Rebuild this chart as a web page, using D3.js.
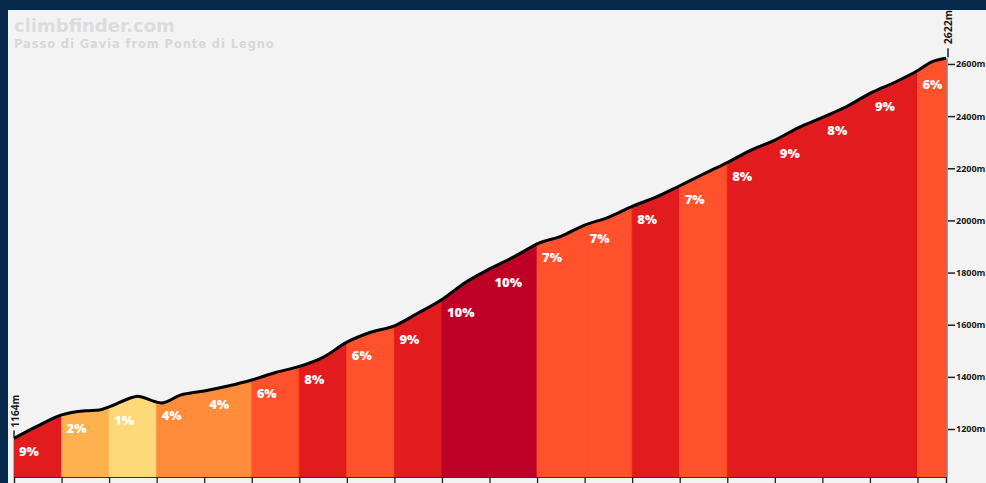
<!DOCTYPE html>
<html>
<head>
<meta charset="utf-8">
<script src="https://cdn.jsdelivr.net/npm/d3@7"></script>
<style>
  html, body { margin: 0; padding: 0; background: #072a4b; }
  svg { display: block; }
</style>
</head>
<body>
<svg id="chart" width="986" height="483"></svg>
<script>
// ---- data ----
const profileKm = [0,0.5,1,1.5,1.8,2,2.5,2.6,2.9,3,3.1,3.5,4,4.5,5,5.5,6,6.5,7,7.5,8,8.5,9,9.5,10,10.5,10.8,11,11.5,12,12.5,13,13.5,14,14.5,15,15.5,16,16.5,17,17.5,18,18.5,19,19.3,19.6];
const profileElev = [1164,1212,1254,1270,1273,1285,1322,1326,1309,1303,1300,1330,1346,1365,1388,1417,1440,1475,1533,1571,1596,1645,1697,1763,1814,1859,1890,1910,1939,1982,2012,2054,2089,2133,2178,2222,2270,2308,2356,2395,2436,2487,2528,2574,2608,2622];
const segStart = [0,1,2,3,4,5,6,7,8,9,10,11,12,13,14,15,16,17,18,19];
const segEnd   = [1,2,3,4,5,6,7,8,9,10,11,12,13,14,15,16,17,18,19,19.6];
const segGrade = [9,2,1,4,4,6,8,6,9,10,10,7,7,8,7,8,9,8,9,6];
const elevTicks = [1200,1400,1600,1800,2000,2200,2400,2600];
const kmTicks = [0,1,2,3,4,5,6,7,8,9,10,11,12,13,14,15,16,17,18,19,19.6];
const title = "climbfinder.com";
const subtitle = "Passo di Gavia from Ponte di Legno";
const startLabel = "1164m";
const endLabel = "2622m";

const gradeColor = {1:"#fed879",2:"#fdb24f",4:"#fe8c3b",6:"#ff512b",7:"#ff512b",8:"#e11b1e",9:"#e11b1e",10:"#bf0026"};

// ---- layout ----
const svg = d3.select("#chart");
svg.append("rect").attr("x",0).attr("y",0).attr("width",986).attr("height",483).attr("fill","#072a4b");
svg.append("rect").attr("x",8).attr("y",10).attr("width",978).attr("height",473).attr("fill","#f3f3f4");

const x = d3.scaleLinear().domain([0, 19.6]).range([14, 946]);
const y = d3.scaleLinear().domain([1016, 2807]).range([477, 10]);

const pts = profileKm.map((d,i)=>({km:d, e:profileElev[i]}));
const curve = d3.curveMonotoneX;

// titles
svg.append("text").attr("x",14).attr("y",32).text(title)
  .attr("font-family","DejaVu Sans, sans-serif").attr("font-weight",700).attr("font-size",18).attr("fill","#dcdcdd");
svg.append("text").attr("x",14).attr("y",48).text(subtitle)
  .attr("font-family","DejaVu Sans, sans-serif").attr("font-weight",700).attr("font-size",11.5)
  .attr("letter-spacing",0.9).attr("fill","#d8d8d9");

// segments
const area = d3.area().x(d=>x(d.km)).y0(y(1016)).y1(d=>y(d.e)).curve(curve);
segStart.forEach((s,i)=>{
  const e = segEnd[i];
  const sub = pts.filter(p=>p.km>=s-1e-9 && p.km<=e+1e-9);
  const c = gradeColor[segGrade[i]];
  svg.append("path").datum(sub).attr("d",area).attr("fill",c)
    .attr("stroke",c).attr("stroke-width",0.8);
});

// profile line
svg.append("path").datum(pts)
  .attr("d", d3.line().x(d=>x(d.km)).y(d=>y(d.e)).curve(curve))
  .attr("fill","none").attr("stroke","#000").attr("stroke-width",3).attr("stroke-linejoin","round");

// grade labels
segStart.forEach((s,i)=>{
  const p = pts.find(q=>Math.abs(q.km-s)<1e-9);
  svg.append("text").attr("x",x(s)+5).attr("y",y(p.e)+18)
    .text(segGrade[i]+"%")
    .attr("font-family","Open Sans, sans-serif").attr("font-weight",800).attr("font-size",13)
    .attr("fill","#fff");
});

// right axis
const ax = svg.append("g").attr("transform","translate(948,0)")
  .call(d3.axisRight(y).tickValues(elevTicks).tickSize(7).tickPadding(1).tickFormat(d=>d+"m"));
ax.select(".domain").remove();
ax.selectAll(".tick line").attr("stroke","#222").attr("stroke-width",1.5);
ax.selectAll(".tick text").attr("font-family","Open Sans, sans-serif").attr("font-weight",700)
  .attr("font-size",9).attr("fill","#1a1a1a");
svg.append("line").attr("x1",947).attr("x2",947).attr("y1",y(2622)).attr("y2",477)
  .attr("stroke","#444").attr("stroke-width",1);

// bottom axis
const bx = svg.append("g").attr("transform","translate(0,477)")
  .call(d3.axisBottom(x).tickValues(kmTicks).tickSize(7).tickFormat(""));
bx.select(".domain").attr("stroke","#333").attr("stroke-width",1.2);
bx.selectAll(".tick line").attr("stroke","#222").attr("stroke-width",1.3);

// start / end labels
const y0 = y(profileElev[0]);
svg.append("line").attr("x1",14).attr("x2",14).attr("y1",y0-1).attr("y2",y0-8).attr("stroke","#222").attr("stroke-width",1.5);
svg.append("text").attr("transform",`translate(19,${y0-11}) rotate(-90)`).text(startLabel)
  .attr("font-family","Open Sans, sans-serif").attr("font-weight",700).attr("font-size",10).attr("fill","#1a1a1a");
const y1 = y(profileElev[profileElev.length-1]);
svg.append("line").attr("x1",948).attr("x2",948).attr("y1",y1-1).attr("y2",y1-10).attr("stroke","#222").attr("stroke-width",1.5);
svg.append("text").attr("transform",`translate(952,${y1-14}) rotate(-90)`).text(endLabel)
  .attr("font-family","Open Sans, sans-serif").attr("font-weight",700).attr("font-size",10.5).attr("fill","#1a1a1a");
</script>
</body>
</html>
